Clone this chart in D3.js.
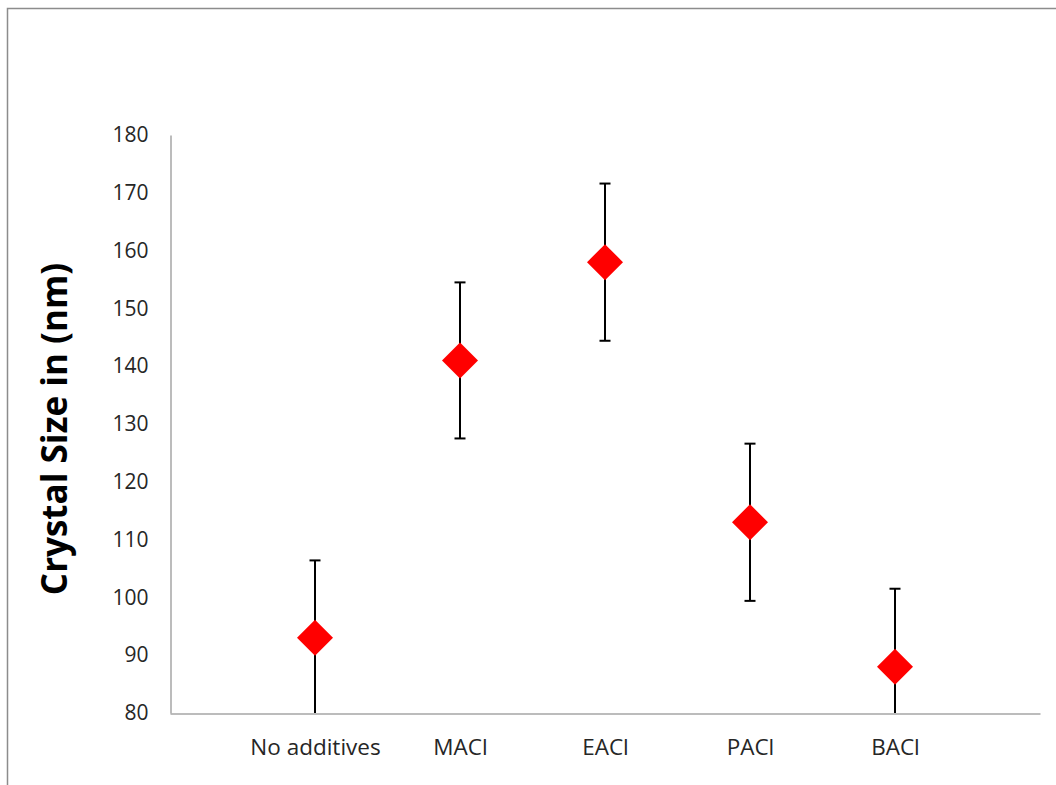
<!DOCTYPE html>
<html>
<head>
<meta charset="utf-8">
<script src="https://cdn.jsdelivr.net/npm/d3@7"></script>
<style>
  html, body { margin: 0; padding: 0; background: #ffffff; }
  svg { display: block; }
</style>
</head>
<body>
<svg id="chart" width="1056" height="785"></svg>
<script>
// Mean crystal size per additive, with standard deviation
const categories = ["No additives", "MACl", "EACl", "PACl", "BACl"];
const crystalSize = [93, 141, 158, 113, 88];
const errorSize = [13.4, 13.5, 13.6, 13.6, 13.5];
const yTicks = [80, 90, 100, 110, 120, 130, 140, 150, 160, 170, 180];

const svg = d3.select("#chart");
const W = 1056, H = 785;

// outer frame (only top and left edges fall inside the canvas)
svg.append("rect")
  .attr("x", 7.5).attr("y", 8.5)
  .attr("width", W + 20).attr("height", H + 20)
  .attr("fill", "#fff")
  .attr("stroke", "#8c8c8c")
  .attr("stroke-width", 1.5);

const plot = { left: 170, right: 1040, top: 135, bottom: 713 };

// points sit at positions 1..5 on a 0..6 axis
const x = d3.scaleLinear().domain([0, categories.length + 1]).range([plot.left, plot.right]);
const y = d3.scaleLinear().domain([80, 180]).range([plot.bottom, plot.top]);

const font = "'Open Sans', 'DejaVu Sans', sans-serif";

// y axis
const yAxis = svg.append("g")
  .attr("transform", `translate(${plot.left + 0.5},0)`)
  .call(d3.axisLeft(y).tickValues(yTicks).tickSize(0).tickPadding(22).tickFormat(d3.format("d")));
yAxis.select(".domain").attr("stroke", "#a6a6a6").attr("stroke-width", 1.5);
yAxis.selectAll("text")
  .attr("font-family", font).attr("font-size", 21).attr("fill", "#262626");

// x axis
const xAxis = svg.append("g")
  .attr("transform", `translate(0,${plot.bottom + 0.5})`)
  .call(d3.axisBottom(x)
    .tickValues(categories.map((d, i) => i + 1))
    .tickSize(0).tickPadding(26)
    .tickFormat((d) => categories[d - 1]));
xAxis.select(".domain").attr("stroke", "#a6a6a6").attr("stroke-width", 1.5);
xAxis.selectAll("text")
  .attr("font-family", font).attr("font-size", 22.5).attr("fill", "#262626");

// axis title
svg.append("text")
  .attr("transform", `translate(67,429) rotate(-90)`)
  .attr("text-anchor", "middle")
  .attr("font-family", font)
  .attr("font-weight", "bold")
  .attr("font-size", 35)
  .attr("fill", "#000")
  .text("Crystal Size in (nm)");

const data = categories.map((c, i) => ({ cat: c, pos: i + 1, v: crystalSize[i], e: errorSize[i] }));
const yMin = y.domain()[0];

// error bars
const eb = svg.append("g").attr("stroke", "#000").attr("stroke-width", 2);
data.forEach((d) => {
  const cx = x(d.pos);
  const lo = Math.max(d.v - d.e, yMin);
  const hi = d.v + d.e;
  eb.append("line").attr("x1", cx).attr("x2", cx).attr("y1", y(lo)).attr("y2", y(hi));
  eb.append("line").attr("x1", cx - 5.5).attr("x2", cx + 5.5).attr("y1", y(hi)).attr("y2", y(hi));
  if (d.v - d.e > yMin) {
    eb.append("line").attr("x1", cx - 5.5).attr("x2", cx + 5.5).attr("y1", y(lo)).attr("y2", y(lo));
  }
});

// diamond markers
const r = 18;
svg.append("g").selectAll("path")
  .data(data)
  .join("path")
  .attr("d", (d) => {
    const cx = x(d.pos), cy = y(d.v);
    return `M${cx},${cy - r}L${cx + r},${cy}L${cx},${cy + r}L${cx - r},${cy}Z`;
  })
  .attr("fill", "#ff0000");
</script>
</body>
</html>
